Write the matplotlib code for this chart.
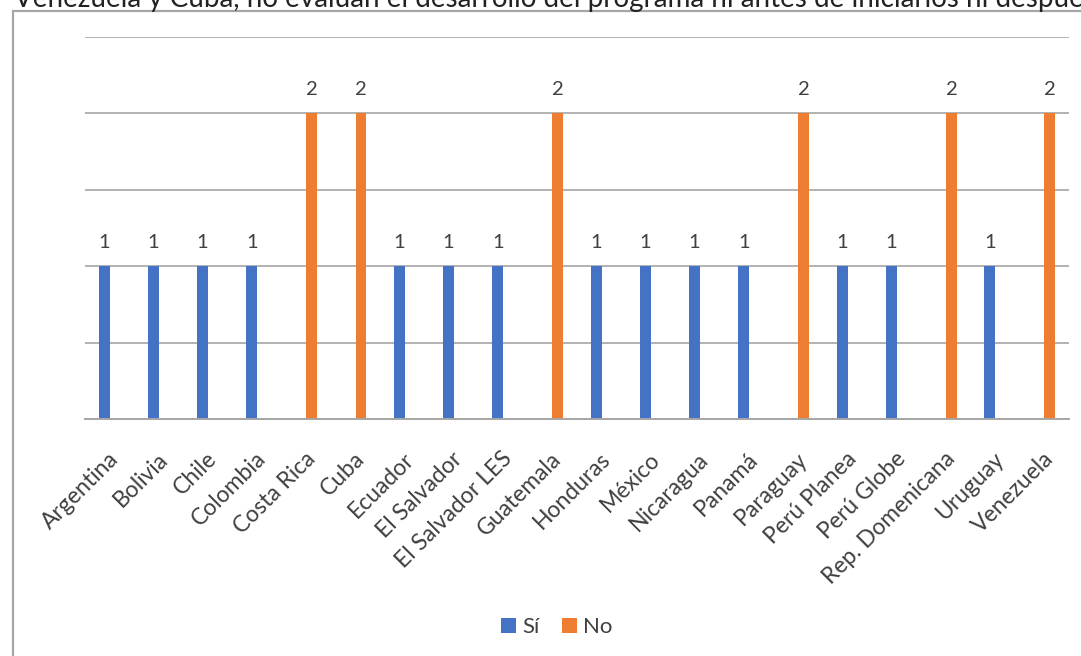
import numpy as np
import matplotlib as mpl
mpl.use('Agg')
import matplotlib.pyplot as plt
import matplotlib.transforms as mtransforms
from matplotlib.patches import Rectangle

paises = ['Argentina', 'Bolivia', 'Chile', 'Colombia', 'Costa Rica', 'Cuba',
          'Ecuador', 'El Salvador', 'El Salvador LES', 'Guatemala', 'Honduras',
          'México', 'Nicaragua', 'Panamá', 'Paraguay', 'Perú Planea',
          'Perú Globe', 'Rep. Domenicana', 'Uruguay', 'Venezuela']
si = [1, 1, 1, 1, np.nan, np.nan, 1, 1, 1, np.nan, 1, 1, 1, 1, np.nan,
      1, 1, np.nan, 1, np.nan]
no = [np.nan, np.nan, np.nan, np.nan, 2, 2, np.nan, np.nan, np.nan, 2,
      np.nan, np.nan, np.nan, np.nan, 2, np.nan, np.nan, 2, np.nan, 2]

azul = '#4472C4'
naranja = '#ED7D31'
texto = '#404040'
fuente = 'Lato'

fig = plt.figure(figsize=(10.81, 6.56), dpi=100)

# marco del grafico (se sale por la derecha y por abajo)
fig.patches.append(Rectangle((13 / 1081, -0.1), 1.2, 0.1 + 1 - 11 / 656,
                             transform=fig.transFigure, fill=False,
                             edgecolor='#A6A6A6', linewidth=1.6))

# linea del texto de arriba, cortada por el borde
fig.text(14 / 1081, 1 - 7.5 / 656,
         'Venezuela y Cuba, no evaluan el desarrollo del programa ni antes de '
         'iniciarlos ni después de implementarlos',
         fontsize=20, family='Lato', color='#222222', va='baseline')

ax = fig.add_axes([85 / 1081, 1 - 419 / 656, 984 / 1081, 382 / 656])

x = np.arange(len(paises))
w = 0.22
b1 = ax.bar(x - w / 2, si, w, color=azul, label='Sí')
b2 = ax.bar(x + w / 2, no, w, color=naranja, label='No')

for bars, vals in ((b1, si), (b2, no)):
    for r, v in zip(bars, vals):
        if np.isnan(v):
            continue
        ax.annotate('%d' % v, (r.get_x() + r.get_width() / 2, v),
                    xytext=(0, 24), textcoords='offset pixels',
                    ha='center', va='center', fontsize=14.5,
                    family=fuente, color=texto)

ax.set_xlim(-0.5, len(paises) - 0.5)
ax.set_ylim(0, 2.5)
ax.set_yticks(np.arange(0, 2.51, 0.5))
ax.yaxis.grid(True, color='#A6A6A6', linewidth=1.2)
ax.set_axisbelow(True)
ax.tick_params(axis='y', left=False, labelleft=False)
ax.tick_params(axis='x', length=0, pad=21)
for s in ['top', 'right', 'left']:
    ax.spines[s].set_visible(False)
ax.spines['bottom'].set_color('#A6A6A6')
ax.spines['bottom'].set_linewidth(1.4)

ax.set_xticks(x)
ax.set_xticklabels(paises, rotation=45, ha='right', rotation_mode='anchor',
                   fontsize=16.5, family=fuente, color=texto)
desplaza = mtransforms.ScaledTranslation(-2 / 100, 0, fig.dpi_scale_trans)
for lab in ax.get_xticklabels():
    lab.set_transform(lab.get_transform() + desplaza)

ax.legend(loc='center', bbox_to_anchor=(557 / 1081, 1 - 627 / 656),
          bbox_transform=fig.transFigure, ncol=2, frameon=False,
          handlelength=0.65, handleheight=0.65, handletextpad=0.3,
          columnspacing=1.0,
          prop={'family': fuente, 'size': 16})
for t in ax.get_legend().get_texts():
    t.set_color(texto)

fig.savefig('out.png', dpi=100)
